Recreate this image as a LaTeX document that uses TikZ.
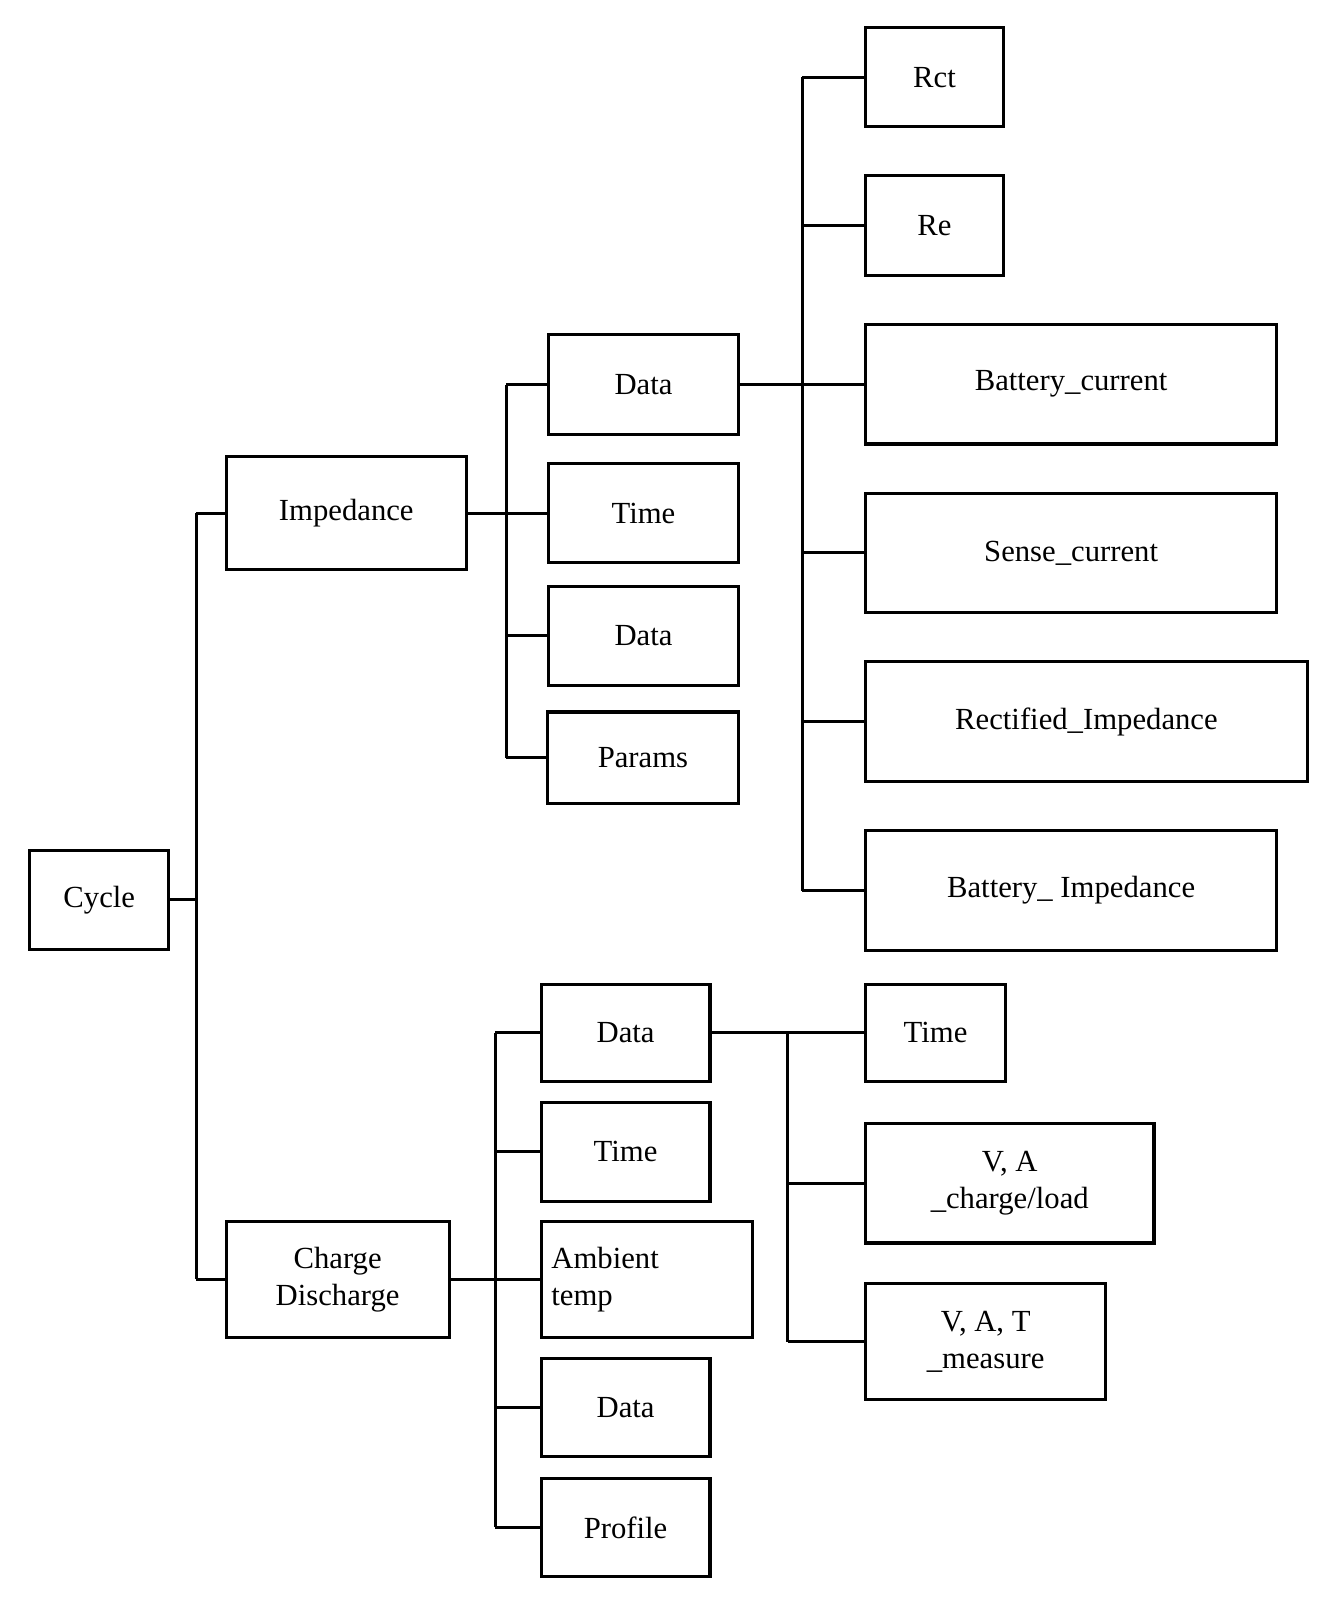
\documentclass[tikz,border=0pt]{standalone}
\usepackage{fontspec}
\setmainfont{Liberation Serif}
\begin{document}
\begin{tikzpicture}[x=1pt,y=-1pt,line width=3pt,
  box/.style={draw,inner sep=0pt,font=\fontsize{30}{40}\selectfont,align=center}]
\useasboundingbox (0,0) rectangle (1300,1564);
\newcommand\bx[6]{\node[box,minimum width={#4-#2},minimum height={#5-#3}] (#1) at ({(#2+#4)/2},{(#3+#5)/2}) {#6};}
\bx{cyc}{29}{831}{165}{928}{Cycle}
\bx{imp}{221}{446}{456}{557}{Impedance}
\bx{cd}{221}{1194}{439}{1307}{Charge\\[-4pt]Discharge}
\bx{d1}{536}{327}{722}{425}{Data}
\bx{t1}{536}{453}{722}{550}{Time}
\bx{d2}{536}{573}{722}{670}{Data}
\bx{p1}{535}{696}{722}{785}{Params}
\bx{rct}{846}{27}{981}{124}{Rct}
\bx{re}{846}{172}{981}{269}{Re}
\bx{bc}{846}{317}{1248}{434}{Battery\_current}
\bx{sc}{846}{482}{1248}{599}{Sense\_current}
\bx{ri}{846}{647}{1278}{764}{Rectified\_Impedance}
\bx{bi}{846}{812}{1248}{929}{Battery\_ Impedance}
\bx{cdd}{529}{962}{694}{1057}{Data}
\bx{cdt}{529}{1078}{694}{1174}{Time}
\node[box,minimum width=207,minimum height=113,text width=187,align=left] (amb) at (632.5,1250.5) {Ambient\\[-4pt]temp};
\bx{cdd2}{529}{1328}{694}{1424}{Data}
\bx{pro}{529}{1445}{694}{1541}{Profile}
\bx{rt}{846}{962}{983}{1057}{Time}
\bx{va}{846}{1098}{1128}{1215}{V, A\\[-4pt]\_charge/load}
\bx{vat}{846}{1255}{1081}{1368}{V, A, T\\[-4pt]\_measure}
\coordinate (b1) at (192,0);
\coordinate (b2) at (495,0);
\coordinate (b3) at (784,0);
\coordinate (b4) at (484,0);
\coordinate (b5) at (770,0);
% Cycle
\draw (cyc.east) -- (cyc.east -| b1);
\draw (imp.west -| b1) -- (cd.west -| b1);
\foreach \n in {imp,cd} \draw (\n.west) -- (\n.west -| b1);
% Impedance
\draw (imp.east) -- (imp.east -| b2);
\draw (d1.west -| b2) -- (p1.west -| b2);
\foreach \n in {d1,t1,d2,p1} \draw (\n.west) -- (\n.west -| b2);
% Data
\draw (d1.east) -- (d1.east -| b3);
\draw (rct.west -| b3) -- (bi.west -| b3);
\foreach \n in {rct,re,bc,sc,ri,bi} \draw (\n.west) -- (\n.west -| b3);
% Charge discharge
\draw (cd.east) -- (cd.east -| b4);
\draw (cdd.west -| b4) -- (pro.west -| b4);
\foreach \n in {cdd,cdt,amb,cdd2,pro} \draw (\n.west) -- (\n.west -| b4);
% CD data
\draw (cdd.east) -- (cdd.east -| b5);
\draw (rt.west -| b5) -- (vat.west -| b5);
\foreach \n in {rt,va,vat} \draw (\n.west) -- (\n.west -| b5);
\end{tikzpicture}
\end{document}
